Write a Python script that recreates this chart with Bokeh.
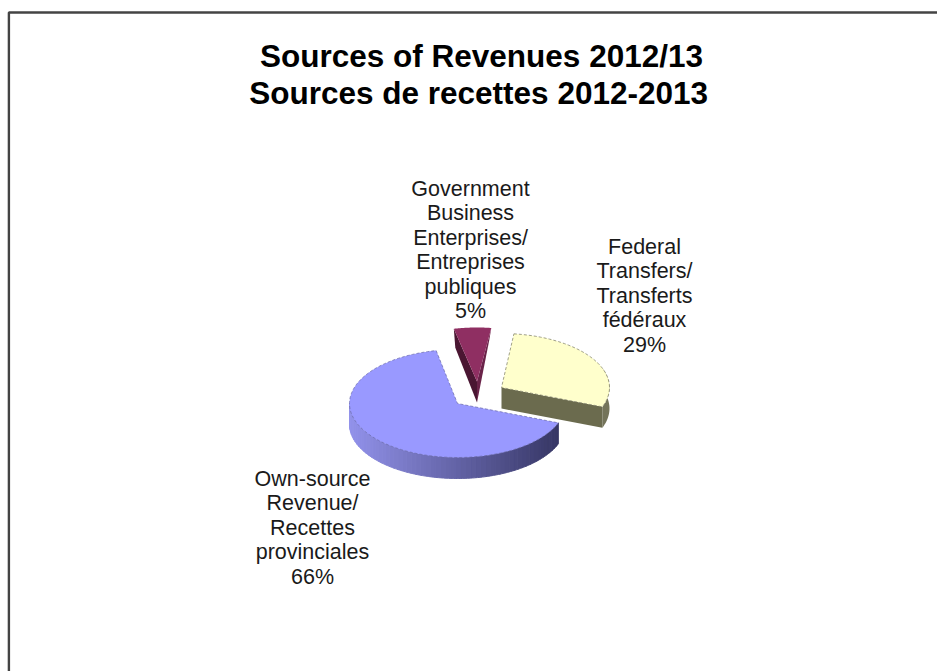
import numpy as np
from bokeh.plotting import figure
from bokeh.models import Range1d, ColumnDataSource
from bokeh.core.properties import value
from bokeh.embed import file_html
from bokeh.resources import INLINE

title_lines = ["Sources of Revenues 2012/13", "Sources de recettes  2012-2013"]
categories = ["Own-source\nRevenue/\nRecettes\nprovinciales",
              "Government\nBusiness\nEnterprises/\nEntreprises\npubliques",
              "Federal\nTransfers/\nTransferts\nfédéraux"]
shares = [66, 5, 29]
top_colors = ["#9999FF", "#8F2F62", "#FFFFCC"]

W, H = 937, 671
p = figure(width=W, height=H, output_backend="svg", toolbar_location=None,
           x_range=Range1d(0, W), y_range=Range1d(H, 0),
           min_border=0, outline_line_color=None, background_fill_color="white",
           border_fill_color="white")
p.axis.visible = False
p.grid.visible = False

# frame
p.line([8.4, 8.4, 937], [671, 12, 12], line_color="#444444", line_width=2.4)

A, B, DEPTH = 108, 54, 21
START = 111.0
apex = [(457, 403), (476.5, 381), (501, 387)]

fr = np.cumsum([0] + shares) / sum(shares)
angs = START + 360 * fr

def arc(i, a0, a1, n=80):
    t = np.radians(np.linspace(a0, a1, n))
    cx, cy = apex[i]
    return cx + A * np.sin(t), cy - B * np.cos(t)

def rgb(c):
    return "#%02x%02x%02x" % tuple(int(round(v)) for v in c)

# --- Government slice
ax, ay = arc(1, angs[1] - 1, angs[2] + 1)
cx, cy = apex[1]
tip = (cx, cy + DEPTH)
p.patch([ax[0], ax[0] + 1.5, tip[0], cx], [ay[0], ay[0] + DEPTH - 2, tip[1], cy],
        fill_color="#4A1632", line_color=None)
p.patch([ax[-1], ax[-1] - 2, tip[0], cx], [ay[-1], ay[-1] + 12, tip[1], cy],
        fill_color="#6A2349", line_color=None)
p.patch(list(ax) + [cx], list(ay) + [cy], fill_color=top_colors[1],
        line_color=None)

# --- Federal slice
ax, ay = arc(2, angs[2], angs[3], 80)
cx, cy = apex[2]
p.patch([cx, ax[-1], ax[-1], cx], [cy, ay[-1], ay[-1] + DEPTH, cy + DEPTH],
        fill_color="#6B6B4E", line_color=None)
ra = ax >= ax[-1] - 0.01
sx, sy = ax[ra], ay[ra]
p.patch(list(sx) + list(sx[::-1]), list(sy) + list(sy[::-1] + DEPTH),
        fill_color="#74745A", line_color=None)
p.patch(list(ax) + [cx], list(ay) + [cy], fill_color=top_colors[2],
        line_color="#77775F", line_width=1, line_dash="3 2", line_alpha=0.7)

# --- Own-source slice: rim shaded left to right
a_front = np.linspace(angs[0], 270, 60)
xs, ys, cols = [], [], []
dark, light = np.array([0x33, 0x33, 0x60]), np.array([0x92, 0x92, 0xEA])
for a0, a1 in zip(a_front[:-1], a_front[1:]):
    x, y = arc(0, a0, a1, 4)
    xs.append(list(x) + list(x[::-1]))
    ys.append(list(y) + list(y[::-1] + DEPTH))
    f = (x.mean() - (apex[0][0] - A)) / (2 * A)
    cols.append(rgb(light + (dark - light) * f))
p.patches("xs", "ys", source=ColumnDataSource(dict(xs=xs, ys=ys, c=cols)),
          fill_color="c", line_color="c", line_width=1)
ax, ay = arc(0, angs[0], angs[1], 200)
cx, cy = apex[0]
p.patch(list(ax) + [cx], list(ay) + [cy], fill_color=top_colors[0],
        line_color="#6A6AA8", line_width=1, line_dash="3 2", line_alpha=0.7)

# --- Texts
p.text([481, 482.5], [55, 92], text=title_lines, text_font=value("Liberation Sans"),
       text_font_style="bold", text_font_size="31.5px", text_align="center",
       text_baseline="middle", text_color="#000000")

anchors = [(312, 478), (470, 188), (644, 246)]
LEAD = 24.5
tx, ty, tt = [], [], []
for cat, share, (lx, ly) in zip(categories, shares, anchors):
    lines = cat.split("\n") + [f"{share}%"]
    for k, line in enumerate(lines):
        tx.append(lx)
        ty.append(ly + k * LEAD)
        tt.append(line)
p.text(tx, ty, text=tt, text_font=value("Liberation Sans"), text_font_size="21.5px",
       text_align="center", text_baseline="middle", text_color="#1a1a1a")

open("out.html", "w").write(file_html(p, INLINE))
